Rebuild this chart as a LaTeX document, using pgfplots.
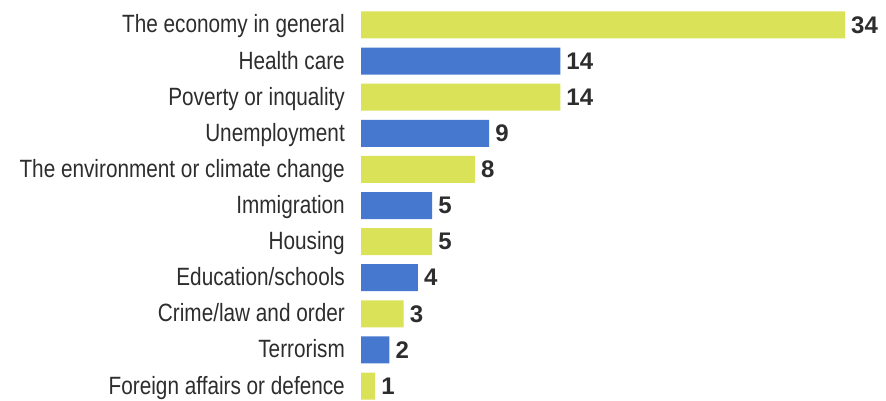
\documentclass[border=0pt]{standalone}
\usepackage{pgfplots}
\pgfplotsset{compat=1.18}
\usepackage{fontspec}
\setmainfont{Liberation Sans}
\newfontfamily\condfont[FakeStretch=0.83]{Liberation Sans}
\definecolor{ygreen}{RGB}{218,226,88}
\definecolor{cblue}{RGB}{70,120,208}
\definecolor{txt}{RGB}{45,45,45}
\begin{document}
\begin{tikzpicture}[x=1pt,y=1pt]
\path[use as bounding box] (0,0) rectangle (886,400);
\begin{axis}[
  at={(361pt,-4.05pt)}, anchor=south west,
  scale only axis, width=484pt, height=397.1pt,
  xmin=0, xmax=34, ymin=-0.5, ymax=10.5,
  clip=false,
  axis line style={draw=none},
  major tick length=0pt,
  xtick=\empty,
  ytick={0,...,10},
  yticklabels={Foreign affairs or defence, Terrorism, Crime/law and order, Education/schools, Housing, Immigration, The environment or climate change, Unemployment, Poverty or inquality, Health care, The economy in general},
  yticklabel style={font=\condfont\fontsize{25}{25}\selectfont, text=txt, anchor=base east, inner sep=0pt, xshift=-16pt, yshift=-8pt},
  xbar, bar width=27pt, bar shift=0pt,
  nodes near coords,
  point meta=x,
  /pgf/number format/assume math mode=true,
  nodes near coords style={font=\bfseries\fontsize{24}{24}\selectfont, text=txt, anchor=west, inner sep=0pt, xshift=6pt},
]
\addplot[fill=ygreen, draw=none] coordinates {(34,10) (14,8) (8,6) (5,4) (3,2) (1,0)};
\addplot[fill=cblue, draw=none] coordinates {(14,9) (9,7) (5,5) (4,3) (2,1)};
\end{axis}
\end{tikzpicture}
\end{document}
